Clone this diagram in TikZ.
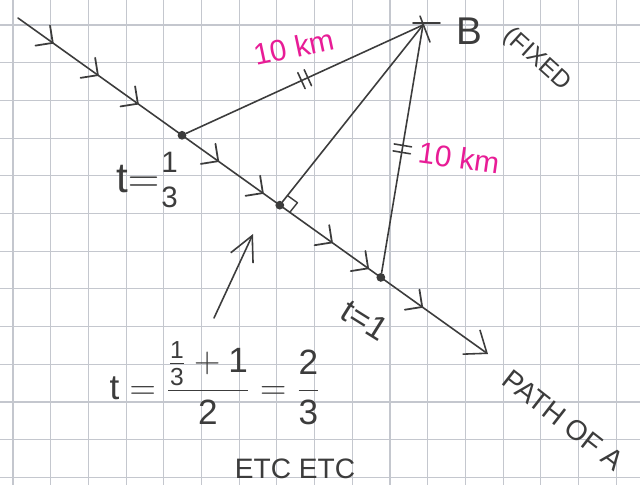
\documentclass[tikz,border=0pt]{standalone}
\usepackage{fontspec}
\setmainfont{Liberation Sans}
\usepackage{amsmath}
\usetikzlibrary{arrows.meta,calc,decorations.markings}

\definecolor{inkpink}{RGB}{232,28,150}
\definecolor{gridgray}{RGB}{196,199,206}
\definecolor{inkgray}{RGB}{60,60,60}
\newcommand{\hw}[1]{\text{#1}}

\begin{document}
\begin{tikzpicture}[
  x=0.02cm, y=-0.02cm,
  gridline/.style={draw=gridgray, line width=0.6pt},
  ink/.style={draw=inkgray, line width=0.9pt, line cap=round, line join=round},
  pathtip/.style={-{Straight Barb[length=11pt,width=17pt]}},
  pointtip/.style={-{Straight Barb[length=14pt,width=14pt]}},
  chev/.style={ink, line width=1pt},
  dot/.style={circle, fill=inkgray, inner sep=0pt, minimum size=5pt},
  eqmark/.style={postaction={decorate, decoration={markings,
      mark=at position 0.5 with {\draw[ink] (-2pt,-5pt) -- (-2pt,5pt) (2pt,-5pt) -- (2pt,5pt);}}}},
  hand/.style={text=inkgray, inner sep=0pt},
  dist/.style={text=inkpink, inner sep=0pt, font=\fontsize{17}{17}\selectfont},
]

% Paper and grid
\fill[white] (0,0) rectangle (640,485);
\useasboundingbox (0,0) rectangle (640,485);
\foreach \i in {0,...,16}
  \draw[gridline] ({13+37.7*\i},0) -- ++(0,485);
\foreach \j in {0,...,12}
  \draw[gridline] (0,{25+37.7*\j}) -- ++(640,0);

% Path of A
\coordinate (start) at (18,18);
\coordinate (end) at (488,354);
\draw[ink, pathtip] (start) -- (end);
\foreach \p in {0.074,0.170,0.255,0.426,0.521,0.668,0.745,0.860}
  \draw[chev] ($(start)!\p!(end)$) +(189:10pt) -- +(0,0) -- +(99:10pt);

% Points on the path and fixed point B
\node[dot] (d1) at ($(start)!0.349!(end)$) {};
\node[dot] (foot) at ($(start)!0.557!(end)$) {};
\node[dot] (d2) at ($(start)!0.772!(end)$) {};
\coordinate (B) at (423,25);
\draw[ink] (B) +(-10,-2) -- +(17,-2) +(-3,-9) -- +(7,17);

% Distances to B
\draw[ink, eqmark] (d1) -- (B);
\draw[ink, eqmark] (d2) -- (B);
\draw[ink] (foot) -- (B);

% Right angle at the foot
\coordinate (ra1) at ($(foot)!7pt!(d2)$);
\coordinate (ra2) at ($(foot)!7pt!(B)$);
\coordinate (ra3) at ($(ra1)+(ra2)-(foot)$);
\draw[ink, line width=0.8pt] (ra1) -- (ra3) -- (ra2);

% Labels
\node[hand, font=\fontsize{22}{22}\selectfont] (Blbl) at (469,31) {B};
\node[hand, font=\fontsize{14}{14}\selectfont, rotate=-42] (fixed) at (537,60) {(FIXED};
\node[dist, rotate=12] (dtop) at (294,47) {10 km};
\node[dist, rotate=-8] (dright) at (459,158) {10 km};
\node[hand, font=\fontsize{24}{24}\selectfont] (tone) at (148,180)
  {$\hw{t}{=}\genfrac{}{}{0pt}{1}{\hw{1}}{\hw{3}}$};
\node[hand, font=\fontsize{19}{19}\selectfont, rotate=-32] (tthree) at (365,320) {t=1};

% Midpoint note
\node[hand, font=\fontsize{20}{20}\selectfont] (tmid) at (215,383)
  {$\hw{t}=\dfrac{\frac{\hw{1}}{\hw{3}}+\hw{1}}{\hw{2}}=\dfrac{\hw{2}}{\hw{3}}$};
\coordinate (ptrtail) at (214,318);
\coordinate (ptrhead) at (253,234);
\draw[ink, pointtip] (ptrtail) -- (ptrhead);

\node[hand, font=\fontsize{16}{16}\selectfont] (etc) at (295,469) {ETC ETC};
\node[hand, font=\fontsize{16}{16}\selectfont, rotate=-38] (pathlbl) at (563,420) {PATH OF A};

\end{tikzpicture}
\end{document}
